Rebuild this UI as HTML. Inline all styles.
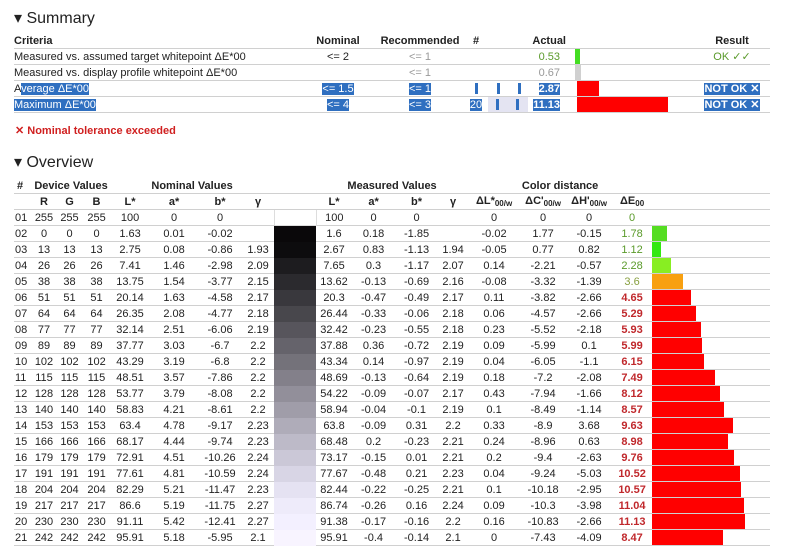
<!DOCTYPE html>
<html><head><meta charset="utf-8"><style>
body{margin:0;width:800px;height:547px;background:#fff;font-family:"Liberation Sans",Arial,sans-serif;font-size:11px;color:#222;position:relative;overflow:hidden}
h2{position:absolute;margin:0;font-weight:normal;font-size:16px;left:14px}
table{position:absolute;left:14px;border-collapse:collapse;table-layout:fixed}
td,th{padding:0;height:15px;border-bottom:1px solid #d0d0d0;white-space:nowrap;overflow:visible}
th{font-weight:bold}
.c{text-align:center}
.r{text-align:right}
.sel{background:#2f6fc0;color:#fff}
.bar{height:15px}
.g{color:#5a9a2a}
.red{color:#c0282c;font-weight:bold}
#ov td{text-align:center}
#ov td.l{text-align:left;padding-left:1px}
sub{font-size:8px;vertical-align:-2px}
.sw{border-bottom:none}
.tk{position:absolute;top:2px;width:3px;height:11px;background:#2f6fc0}
.rel{position:relative}
</style></head><body>
<h2 style="top:8px">▾ Summary</h2>
<table style="top:33px;width:756px">
<colgroup><col style="width:286px"><col style="width:76px"><col style="width:88px"><col style="width:24px"><col style="width:40px"><col style="width:47px"><col style="width:119px"><col style="width:76px"></colgroup>
<tr><th style="text-align:left">Criteria</th><th class="c">Nominal</th><th class="c">Recommended</th><th class="c">#</th><th></th><th style="text-align:right;padding-right:9px">Actual</th><th></th><th class="c">Result</th></tr>
<tr><td>Measured vs. assumed target whitepoint ΔE*00</td><td class="c">&lt;= 2</td><td class="c" style="color:#999">&lt;= 1</td><td></td><td></td><td class="r g" style="padding-right:15px">0.53</td><td><div style="width:5px;height:15px;background:#44dd22"></div></td><td class="c g">OK ✓✓</td></tr>
<tr><td>Measured vs. display profile whitepoint ΔE*00</td><td></td><td class="c" style="color:#999">&lt;= 1</td><td></td><td></td><td class="r" style="padding-right:15px;color:#999">0.67</td><td><div style="width:6px;height:15px;background:#d0d0d0"></div></td><td></td></tr>
<tr><td>A<span class="sel">verage ΔE*00</span></td><td class="c"><span class="sel">&lt;= 1.5</span></td><td class="c"><span class="sel">&lt;= 1</span></td><td class="rel"><span class="tk" style="left:11px"></span></td><td class="rel"><span class="tk" style="left:9px"></span><span class="tk" style="left:30px"></span></td><td class="r" style="padding-right:15px"><span class="sel" style="font-weight:bold">2.87</span></td><td><div style="width:22px;height:15px;background:#f00;margin-left:2px"></div></td><td class="c"><span class="sel" style="font-weight:bold">NOT OK ✕</span></td></tr>
<tr><td><span class="sel">Maximum ΔE*00</span></td><td class="c"><span class="sel">&lt;= 4</span></td><td class="c"><span class="sel">&lt;= 3</span></td><td class="c"><span class="sel">20</span></td><td class="rel" style="background:#e4e4f2"><span class="tk" style="left:8px"></span><span class="tk" style="left:28px"></span></td><td class="r" style="padding-right:15px"><span class="sel" style="font-weight:bold">11.13</span></td><td><div style="width:91px;height:15px;background:#f00;margin-left:2px"></div></td><td class="c"><span class="sel" style="font-weight:bold">NOT OK ✕</span></td></tr>
</table>
<div style="position:absolute;left:15px;top:124px;color:#d02020;font-weight:bold;font-size:11px">✕ Nominal tolerance exceeded</div>
<h2 style="top:152px">▾ Overview</h2>
<table id="ov" style="top:178px;width:756px">
<colgroup><col style="width:18px"><col style="width:24px"><col style="width:27px"><col style="width:27px"><col style="width:40px"><col style="width:48px"><col style="width:44px"><col style="width:32px"><col style="width:42px"><col style="width:36px"><col style="width:43px"><col style="width:43px"><col style="width:30px"><col style="width:52px"><col style="width:46px"><col style="width:46px"><col style="width:40px"><col style="width:118px"></colgroup>
<tr><th style="text-align:left;padding-left:3px">#</th><th colspan="3" class="c">Device Values</th><th colspan="4" class="c">Nominal Values</th><th></th><th colspan="4" class="c">Measured Values</th><th colspan="4" class="c">Color distance</th><th></th></tr>
<tr><th></th><th>R</th><th>G</th><th>B</th><th>L*</th><th>a*</th><th>b*</th><th>γ</th><th></th><th>L*</th><th>a*</th><th>b*</th><th>γ</th><th>ΔL*<sub>00/w</sub></th><th>ΔC'<sub>00/w</sub></th><th>ΔH'<sub>00/w</sub></th><th>ΔE<sub>00</sub></th><th></th></tr>
<tr><td class="l">01</td><td>255</td><td>255</td><td>255</td><td>100</td><td>0</td><td>0</td><td></td><td style="background:#fff;border:1px solid #ddd"></td><td>100</td><td>0</td><td>0</td><td></td><td>0</td><td>0</td><td>0</td><td class="g">0</td><td></td></tr>
<tr><td class="l">02</td><td>0</td><td>0</td><td>0</td><td>1.63</td><td>0.01</td><td>-0.02</td><td></td><td class="sw" style="background:#0a080a"></td><td>1.6</td><td>0.18</td><td>-1.85</td><td></td><td>-0.02</td><td>1.77</td><td>-0.15</td><td class="g">1.78</td><td><div class="bar" style="width:15px;background:#55dd22"></div></td></tr>
<tr><td class="l">03</td><td>13</td><td>13</td><td>13</td><td>2.75</td><td>0.08</td><td>-0.86</td><td>1.93</td><td class="sw" style="background:#0d0c0e"></td><td>2.67</td><td>0.83</td><td>-1.13</td><td>1.94</td><td>-0.05</td><td>0.77</td><td>0.82</td><td class="g">1.12</td><td><div class="bar" style="width:9px;background:#33e811"></div></td></tr>
<tr><td class="l">04</td><td>26</td><td>26</td><td>26</td><td>7.41</td><td>1.46</td><td>-2.98</td><td>2.09</td><td class="sw" style="background:#1d1c1f"></td><td>7.65</td><td>0.3</td><td>-1.17</td><td>2.07</td><td>0.14</td><td>-2.21</td><td>-0.57</td><td class="g">2.28</td><td><div class="bar" style="width:19px;background:#88ee22"></div></td></tr>
<tr><td class="l">05</td><td>38</td><td>38</td><td>38</td><td>13.75</td><td>1.54</td><td>-3.77</td><td>2.15</td><td class="sw" style="background:#2b2a2e"></td><td>13.62</td><td>-0.13</td><td>-0.69</td><td>2.16</td><td>-0.08</td><td>-3.32</td><td>-1.39</td><td style="color:#88a040">3.6</td><td><div class="bar" style="width:31px;background:#f8a010"></div></td></tr>
<tr><td class="l">06</td><td>51</td><td>51</td><td>51</td><td>20.14</td><td>1.63</td><td>-4.58</td><td>2.17</td><td class="sw" style="background:#39383d"></td><td>20.3</td><td>-0.47</td><td>-0.49</td><td>2.17</td><td>0.11</td><td>-3.82</td><td>-2.66</td><td class="red">4.65</td><td><div class="bar" style="width:39px;background:#f00"></div></td></tr>
<tr><td class="l">07</td><td>64</td><td>64</td><td>64</td><td>26.35</td><td>2.08</td><td>-4.77</td><td>2.18</td><td class="sw" style="background:#48474c"></td><td>26.44</td><td>-0.33</td><td>-0.06</td><td>2.18</td><td>0.06</td><td>-4.57</td><td>-2.66</td><td class="red">5.29</td><td><div class="bar" style="width:44px;background:#f00"></div></td></tr>
<tr><td class="l">08</td><td>77</td><td>77</td><td>77</td><td>32.14</td><td>2.51</td><td>-6.06</td><td>2.19</td><td class="sw" style="background:#57555c"></td><td>32.42</td><td>-0.23</td><td>-0.55</td><td>2.18</td><td>0.23</td><td>-5.52</td><td>-2.18</td><td class="red">5.93</td><td><div class="bar" style="width:49px;background:#f00"></div></td></tr>
<tr><td class="l">09</td><td>89</td><td>89</td><td>89</td><td>37.77</td><td>3.03</td><td>-6.7</td><td>2.2</td><td class="sw" style="background:#65636b"></td><td>37.88</td><td>0.36</td><td>-0.72</td><td>2.19</td><td>0.09</td><td>-5.99</td><td>0.1</td><td class="red">5.99</td><td><div class="bar" style="width:50px;background:#f00"></div></td></tr>
<tr><td class="l">10</td><td>102</td><td>102</td><td>102</td><td>43.29</td><td>3.19</td><td>-6.8</td><td>2.2</td><td class="sw" style="background:#74727a"></td><td>43.34</td><td>0.14</td><td>-0.97</td><td>2.19</td><td>0.04</td><td>-6.05</td><td>-1.1</td><td class="red">6.15</td><td><div class="bar" style="width:52px;background:#f00"></div></td></tr>
<tr><td class="l">11</td><td>115</td><td>115</td><td>115</td><td>48.51</td><td>3.57</td><td>-7.86</td><td>2.2</td><td class="sw" style="background:#83808a"></td><td>48.69</td><td>-0.13</td><td>-0.64</td><td>2.19</td><td>0.18</td><td>-7.2</td><td>-2.08</td><td class="red">7.49</td><td><div class="bar" style="width:63px;background:#f00"></div></td></tr>
<tr><td class="l">12</td><td>128</td><td>128</td><td>128</td><td>53.77</td><td>3.79</td><td>-8.08</td><td>2.2</td><td class="sw" style="background:#928f9a"></td><td>54.22</td><td>-0.09</td><td>-0.07</td><td>2.17</td><td>0.43</td><td>-7.94</td><td>-1.66</td><td class="red">8.12</td><td><div class="bar" style="width:68px;background:#f00"></div></td></tr>
<tr><td class="l">13</td><td>140</td><td>140</td><td>140</td><td>58.83</td><td>4.21</td><td>-8.61</td><td>2.2</td><td class="sw" style="background:#a09da9"></td><td>58.94</td><td>-0.04</td><td>-0.1</td><td>2.19</td><td>0.1</td><td>-8.49</td><td>-1.14</td><td class="red">8.57</td><td><div class="bar" style="width:72px;background:#f00"></div></td></tr>
<tr><td class="l">14</td><td>153</td><td>153</td><td>153</td><td>63.4</td><td>4.78</td><td>-9.17</td><td>2.23</td><td class="sw" style="background:#afacb9"></td><td>63.8</td><td>-0.09</td><td>0.31</td><td>2.2</td><td>0.33</td><td>-8.9</td><td>3.68</td><td class="red">9.63</td><td><div class="bar" style="width:81px;background:#f00"></div></td></tr>
<tr><td class="l">15</td><td>166</td><td>166</td><td>166</td><td>68.17</td><td>4.44</td><td>-9.74</td><td>2.23</td><td class="sw" style="background:#bdbac8"></td><td>68.48</td><td>0.2</td><td>-0.23</td><td>2.21</td><td>0.24</td><td>-8.96</td><td>0.63</td><td class="red">8.98</td><td><div class="bar" style="width:76px;background:#f00"></div></td></tr>
<tr><td class="l">16</td><td>179</td><td>179</td><td>179</td><td>72.91</td><td>4.51</td><td>-10.26</td><td>2.24</td><td class="sw" style="background:#cbc8d7"></td><td>73.17</td><td>-0.15</td><td>0.01</td><td>2.21</td><td>0.2</td><td>-9.4</td><td>-2.63</td><td class="red">9.76</td><td><div class="bar" style="width:82px;background:#f00"></div></td></tr>
<tr><td class="l">17</td><td>191</td><td>191</td><td>191</td><td>77.61</td><td>4.81</td><td>-10.59</td><td>2.24</td><td class="sw" style="background:#d8d5e5"></td><td>77.67</td><td>-0.48</td><td>0.21</td><td>2.23</td><td>0.04</td><td>-9.24</td><td>-5.03</td><td class="red">10.52</td><td><div class="bar" style="width:88px;background:#f00"></div></td></tr>
<tr><td class="l">18</td><td>204</td><td>204</td><td>204</td><td>82.29</td><td>5.21</td><td>-11.47</td><td>2.23</td><td class="sw" style="background:#e5e2f2"></td><td>82.44</td><td>-0.22</td><td>-0.25</td><td>2.21</td><td>0.1</td><td>-10.18</td><td>-2.95</td><td class="red">10.57</td><td><div class="bar" style="width:89px;background:#f00"></div></td></tr>
<tr><td class="l">19</td><td>217</td><td>217</td><td>217</td><td>86.6</td><td>5.19</td><td>-11.75</td><td>2.27</td><td class="sw" style="background:#eeebfa"></td><td>86.74</td><td>-0.26</td><td>0.16</td><td>2.24</td><td>0.09</td><td>-10.3</td><td>-3.98</td><td class="red">11.04</td><td><div class="bar" style="width:92px;background:#f00"></div></td></tr>
<tr><td class="l">20</td><td>230</td><td>230</td><td>230</td><td>91.11</td><td>5.42</td><td>-12.41</td><td>2.27</td><td class="sw" style="background:#f3f0ff"></td><td>91.38</td><td>-0.17</td><td>-0.16</td><td>2.2</td><td>0.16</td><td>-10.83</td><td>-2.66</td><td class="red">11.13</td><td><div class="bar" style="width:93px;background:#f00"></div></td></tr>
<tr><td class="l">21</td><td>242</td><td>242</td><td>242</td><td>95.91</td><td>5.18</td><td>-5.95</td><td>2.1</td><td class="sw" style="background:#f8f4ff"></td><td>95.91</td><td>-0.4</td><td>-0.14</td><td>2.1</td><td>0</td><td>-7.43</td><td>-4.09</td><td class="red">8.47</td><td><div class="bar" style="width:71px;background:#f00"></div></td></tr>
</table>
</body></html>
